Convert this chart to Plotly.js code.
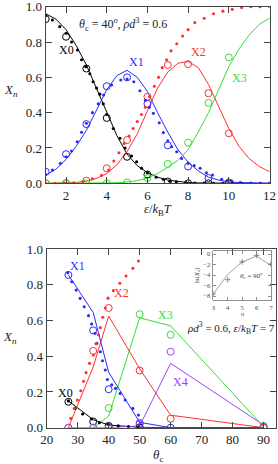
<!DOCTYPE html>
<html><head><meta charset="utf-8">
<script src="https://cdn.plot.ly/plotly-3.0.1.min.js"></script>
<style>html,body{margin:0;padding:0;background:#fff}#c{width:278px;height:464px}</style>
</head><body><div id="c"></div>
<script>
// ---------- top panel data (x = eps/kBT) ----------
const epsLine = [1,1.5,2,2.5,3,3.5,4,4.5,5,5.5,6,6.5,7,7.5,8,8.5,9,9.5,10,10.5,11,11.5,12];
const lineX0 = [0.96,0.93,0.87,0.78,0.67,0.54,0.40,0.27,0.165,0.10,0.06,0.035,0.018,0.009,0.004,0.002,0.001,0,0,0,0,0,0];
const lineX1 = [0.045,0.08,0.135,0.21,0.30,0.415,0.53,0.61,0.64,0.60,0.52,0.40,0.29,0.19,0.12,0.07,0.035,0.018,0.008,0.004,0.002,0.001,0];
const lineX2 = [0,0.001,0.002,0.005,0.012,0.028,0.055,0.105,0.18,0.28,0.41,0.54,0.63,0.68,0.69,0.655,0.56,0.43,0.31,0.21,0.14,0.095,0.065];
const lineX3 = [0,0,0,0,0,0,0.001,0.003,0.007,0.015,0.03,0.055,0.09,0.13,0.19,0.29,0.40,0.53,0.66,0.76,0.84,0.90,0.935];

const epsCirc = [1,2,3,4,5,6,7,8,9,10];
const circX0 = [0.93,0.83,0.65,0.37,0.15,0.05,0.01,0.0,0.0,0.0];
const circX1 = [0.065,0.165,0.335,0.55,0.60,0.45,0.215,0.095,0.03,0.005];
const circX2 = [0.0,0.0,0.015,0.085,0.245,0.49,0.67,0.675,0.51,0.283];
const circX3 = [0.0,0.0,0.0,0.0,0.005,0.03,0.11,0.23,0.455,0.713];

const dotEps0 = [1.0,1.33,1.69,2.0,2.27,2.56,2.76,2.97,3.17,3.33,3.5,3.66,3.83,4.0,4.32,4.65,4.9,5.22,5.47,5.71,6.0,6.43,6.78,7.1,7.42,7.88,8.33,8.79,9.25,9.71,10.17,10.63,11.08,11.54,12.0];
const dotX0 = [0.95,0.925,0.887,0.85,0.80,0.755,0.70,0.66,0.62,0.575,0.54,0.505,0.45,0.39,0.31,0.255,0.20,0.155,0.122,0.085,0.06,0.034,0.023,0.012,0.008,0.004,0.002,0.001,0,0,0,0,0,0,0];
const dotEps1 = [1.0,1.33,1.72,2.0,2.27,2.55,2.76,3.0,3.3,3.58,3.85,4.24,4.69,5.0,5.33,5.63,5.9,6.09,6.29,6.58,6.78,7.0,7.19,7.44,7.68,8.0,8.3,8.59,8.9,9.2,9.65,10.15,10.56,11.08,11.54,12.0];
const dotX1 = [0.05,0.075,0.113,0.15,0.183,0.235,0.289,0.34,0.40,0.45,0.50,0.557,0.585,0.59,0.575,0.524,0.47,0.43,0.396,0.343,0.287,0.24,0.207,0.179,0.141,0.113,0.10,0.085,0.06,0.047,0.023,0.013,0.004,0.002,0.0,0.0];
const dotEps2 = [1.0,1.46,1.92,2.38,2.83,3.29,3.75,4.1,4.35,4.6,4.86,5.1,5.3,5.5,5.71,5.9,6.11,6.34,6.55,6.73,6.94,7.16,7.44,7.73,8.0,8.33,8.79,9.25,9.71,10.17,10.63,11.08,11.54,12.0];
const dotX2 = [0,0,0.001,0.003,0.01,0.025,0.045,0.075,0.126,0.173,0.226,0.268,0.31,0.35,0.39,0.43,0.49,0.55,0.60,0.655,0.70,0.75,0.79,0.834,0.87,0.91,0.935,0.96,0.975,0.985,0.995,1.0,1.0,1.0];

// ---------- bottom panel data (x = theta_c) ----------
const thetaLine = [27,35,40,50,60,90];
const bLineX0 = [0.15,0.045,0.015,0.002,0,0];
const bLineX1 = [0.855,0.645,0.31,0.03,0.0,0.0];
const bLineX2 = [0,0.34,0.625,0.33,0.07,0];
const bLineX3 = [null,0,0.065,0.615,0.57,0.005];
const bLineX4 = [0,0,0,0.01,0.36,0.015];

const bCircX0 = [0.145,0.035,0.01,0.002,null,null];
const bCircX1 = [0.855,0.545,0.215,0.02,0.0,0.0];
const bCircX2 = [0.0,0.43,0.67,0.32,0.05,0.0];
const bCircX3 = [null,0.0,0.11,0.635,0.52,0.01];
const bCircX4 = [0.0,0.0,0.0,0.028,0.425,0.005];

const bDotT0 = [27,29.1,31.6,34.5,37,39.9,43.1,46.4,49.6];
const bDotX0 = [0.15,0.108,0.077,0.049,0.028,0.02,0.01,0.006,0.002];
const bDotT1 = [26.8,28.1,29.5,30.8,32.1,33.5,34.5,35.6,36.2,37.3,38.0,38.9,39.6,41.0,42.2,43.7,45.3,47.8,49.6];
const bDotX1 = [0.867,0.817,0.77,0.724,0.677,0.627,0.58,0.528,0.472,0.425,0.375,0.323,0.27,0.24,0.22,0.192,0.155,0.108,0.071];
const bDotT2 = [27.8,28.9,29.9,31.0,31.9,32.7,33.8,35.1,35.9,36.7,37.3,38.1,38.9,39.8,41.5,43.6,45.6,47.8,49.6];
const bDotX2 = [0.052,0.108,0.155,0.207,0.26,0.308,0.36,0.407,0.47,0.52,0.56,0.618,0.67,0.725,0.767,0.808,0.849,0.892,0.933];

// ---------- inset data ----------
const insetN = [3,4,5,6,7];
const insetLine = [-7.6,-3.9,-1.5,-0.4,-2.2];
const insetPts = [-7.6,-4.9,-1.5,-0.25,-1.9];

const C = {k:'#000000', b:'#2a2aff', r:'#ff3030', g:'#33dd33', p:'#a040ff'};
const F = 'Liberation Serif';

function ln(x,y,c,xa,ya){return {x:x,y:y,type:'scatter',mode:'lines',line:{color:c,width:1},xaxis:xa,yaxis:ya,hoverinfo:'skip',connectgaps:false};}
function circ(x,y,c,xa,ya){return {x:x,y:y,type:'scatter',mode:'markers',marker:{symbol:'circle-open',size:7,color:c,line:{width:1,color:c}},xaxis:xa,yaxis:ya,hoverinfo:'skip'};}
function dot(x,y,c,xa,ya){return {x:x,y:y,type:'scatter',mode:'markers',marker:{symbol:'circle',size:3.1,color:c},xaxis:xa,yaxis:ya,hoverinfo:'skip'};}

const traces = [
  ln(epsLine,lineX0,C.k,'x','y'), ln(epsLine,lineX1,C.b,'x','y'), ln(epsLine,lineX2,C.r,'x','y'), ln(epsLine,lineX3,C.g,'x','y'),
  circ(epsCirc,circX0,C.k,'x','y'), circ(epsCirc,circX1,C.b,'x','y'), circ(epsCirc,circX2,C.r,'x','y'), circ(epsCirc,circX3,C.g,'x','y'),
  dot(dotEps0,dotX0,C.k,'x','y'), dot(dotEps1,dotX1,C.b,'x','y'), dot(dotEps2,dotX2,C.r,'x','y'),

  ln(thetaLine,bLineX0,C.k,'x2','y2'), ln(thetaLine,bLineX3,C.g,'x2','y2'), ln(thetaLine,bLineX4,C.p,'x2','y2'),
  ln(thetaLine,bLineX2,C.r,'x2','y2'), ln(thetaLine,bLineX1,C.b,'x2','y2'),
  circ(thetaLine,bCircX0,C.k,'x2','y2'), circ(thetaLine,bCircX1,C.b,'x2','y2'), circ(thetaLine,bCircX2,C.r,'x2','y2'),
  circ(thetaLine,bCircX3,C.g,'x2','y2'), circ(thetaLine,bCircX4,C.p,'x2','y2'),
  dot(bDotT0,bDotX0,C.k,'x2','y2'), dot(bDotT1,bDotX1,C.b,'x2','y2'), dot(bDotT2,bDotX2,C.r,'x2','y2'),

  {x:insetN,y:insetLine,type:'scatter',mode:'lines',line:{color:'#888',width:0.8},xaxis:'x3',yaxis:'y3',hoverinfo:'skip'},
  {x:insetN,y:insetPts,type:'scatter',mode:'markers',marker:{symbol:'cross-thin-open',size:4,color:'#666',line:{width:0.8,color:'#666'}},xaxis:'x3',yaxis:'y3',hoverinfo:'skip'}
];

const ax = {showgrid:false,zeroline:false,showline:true,linecolor:'#444',linewidth:1,mirror:'ticks',ticks:'inside',ticklen:6,tickcolor:'#444',tickwidth:1,tickfont:{family:F,size:13,color:'#222'},ticklabeloverflow:'allow'};
const iax = {showgrid:false,zeroline:false,showline:true,linecolor:'#777',linewidth:0.8,mirror:'ticks',ticks:'inside',ticklen:3,tickcolor:'#777',tickwidth:0.8,tickfont:{family:F,size:6.5,color:'#444'},ticklabelstandoff:1};

function A(text,px,py,c,size,extra){return Object.assign({text:text,x:px/278,y:1-py/464,xref:'paper',yref:'paper',showarrow:false,font:{family:F,size:size||12,color:c||'#222'},xanchor:'center',yanchor:'middle'},extra||{});}

const layout = {
  width:278,height:464,margin:{l:0,r:0,t:0,b:0},showlegend:false,
  paper_bgcolor:'#fff',plot_bgcolor:'rgba(0,0,0,0)',
  xaxis:Object.assign({},ax,{domain:[45.7/278,269.5/278],anchor:'y',range:[1,12],tick0:0,dtick:2}),
  yaxis:Object.assign({},ax,{domain:[1-183.3/464,1-6.7/464],anchor:'x',range:[0,1.0001],dtick:0.2,tickformat:'.1f'}),
  xaxis2:Object.assign({},ax,{domain:[46.7/278,276/278],anchor:'y2',range:[20,94],tick0:20,dtick:10}),
  yaxis2:Object.assign({},ax,{domain:[1-427.7/464,1-249/464],anchor:'x2',range:[0,1.0001],dtick:0.2,tickformat:'.1f'}),
  xaxis3:Object.assign({},iax,{domain:[213.3/278,271/278],anchor:'y3',range:[3,7],dtick:1}),
  yaxis3:Object.assign({},iax,{domain:[1-300/464,1-250.7/464],anchor:'x3',range:[-8.76,0.63],dtick:2}),
  annotations:[
    A('<i>θ</i><sub>c</sub> = 40<sup><i>o</i></sup>, <i>ρd</i><sup>3</sup> = 0.6',123,24.5,'#222',12),
    A('X0',66,50,C.k,12), A('X1',136.7,61.7,C.b,12), A('X2',198.3,51.7,C.r,12), A('X3',239.5,77.8,C.g,12),
    A('<i>ε</i>/<i>k</i><sub>B</sub><i>T</i>',158,210,'#222',12.5),
    A('<i>X<sub>n</sub></i>',10.7,90.7,'#222',13),
    A('<i>ρd</i><sup>3</sup> = 0.6, <i>ε</i>/<i>k</i><sub>B</sub><i>T</i> = 7',276.5,328.3,'#222',11,{xanchor:'right'}),
    A('X1',77.3,266,C.b,12), A('X2',121.7,293.3,C.r,12), A('X3',165,315,C.g,12), A('X4',180,382.3,C.p,12), A('X0',65.7,393.3,C.k,12),
    A('<i>θ</i><sub>c</sub>',158,455,'#222',13),
    A('<i>X<sub>n</sub></i>',10,337.3,'#222',13),
    A('<i>θ</i><sub>c</sub> = 90<sup>o</sup>',251,275,'#444',7),
    A('ln(<i>X<sub>n</sub></i>)',196,275.5,'#444',6.5,{textangle:-90}),
    A('<i>n</i>',242.7,313,'#444',6.5)
  ]
};
Plotly.newPlot('c',traces,layout,{staticPlot:true,displayModeBar:false});
</script></body></html>
